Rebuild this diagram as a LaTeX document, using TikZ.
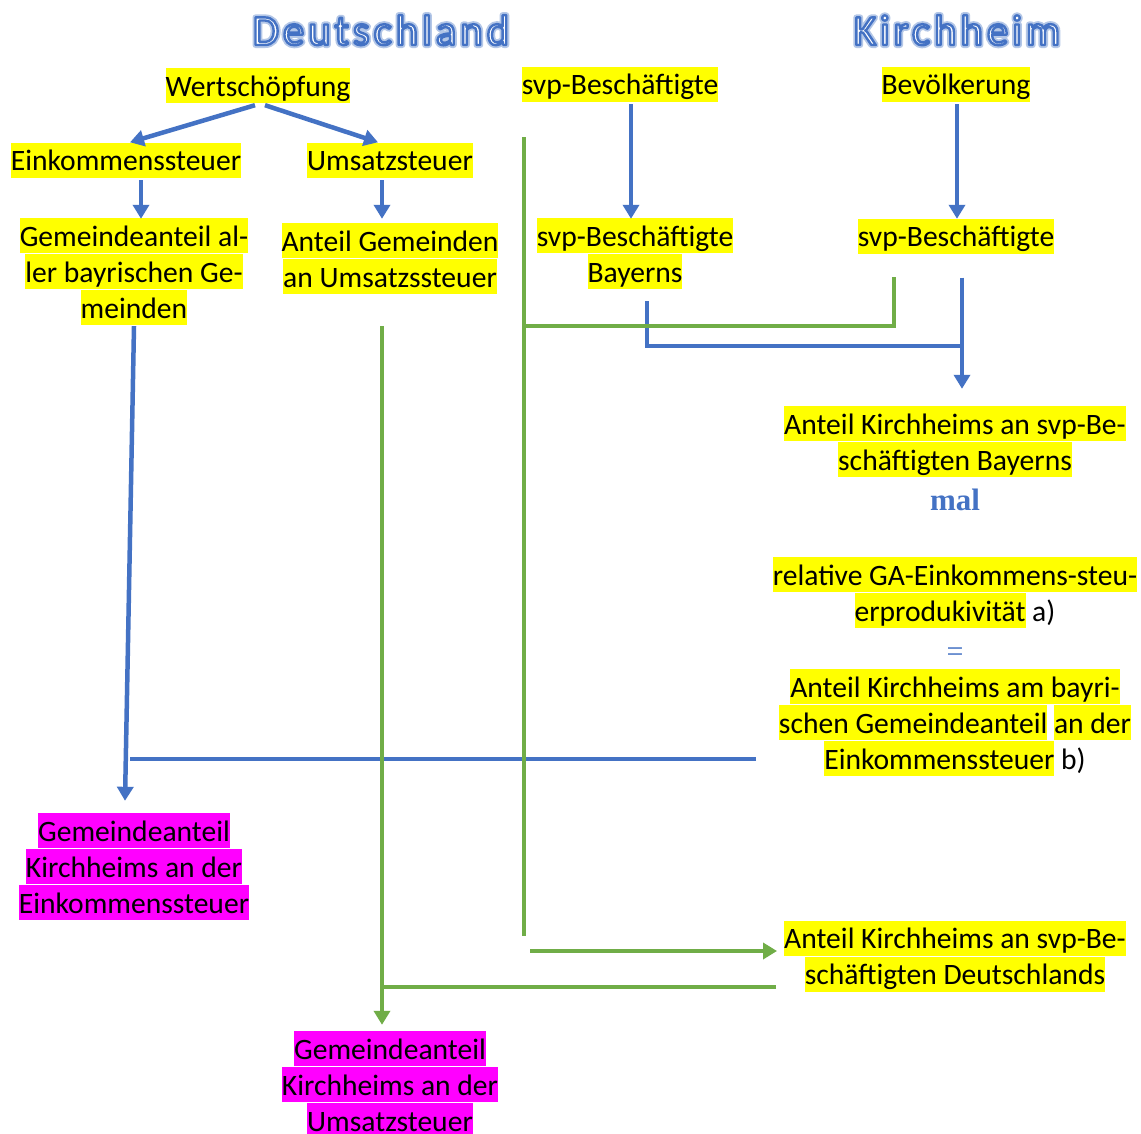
\documentclass[tikz,border=0pt]{standalone}
\usepackage{fontspec}
\setmainfont{Carlito}
\newfontfamily\titlefont[LetterSpace=9]{Carlito}
\newfontfamily\serifbold{Liberation Serif}
\usetikzlibrary{arrows.meta}
\definecolor{obl}{HTML}{4472C4}
\definecolor{oblglow}{HTML}{B4C7E7}
\definecolor{ogr}{HTML}{70AD47}
\definecolor{hlyel}{HTML}{FFFF00}
\definecolor{hlmag}{HTML}{FF00FF}
\newcommand\hly[1]{{\setlength{\fboxsep}{0pt}\colorbox{hlyel}{\rule[-7pt]{0pt}{35pt}#1}}}
\newcommand\hlm[1]{{\setlength{\fboxsep}{0pt}\colorbox{hlmag}{\rule[-7pt]{0pt}{35pt}#1}}}
\newcommand\glowtext[1]{{\color{oblglow}\special{pdf:literal direct 2 Tr 6 w 1 j 0.706 0.780 0.906 RG}#1\special{pdf:literal direct 0 Tr 1 w 0 j}}}
\newcommand\outltext[1]{{\color{white}\special{pdf:literal direct 2 Tr 2.4 w 1 j 0.267 0.447 0.769 RG}#1\special{pdf:literal direct 0 Tr 1 w 0 j}}}
\begin{document}
\begin{tikzpicture}[x=1pt,y=-1pt,
  txt/.style={font=\fontsize{29.6}{36}\selectfont, align=center, inner sep=0pt},
  bl/.style={draw=obl, line width=4.5pt},
  gr/.style={draw=ogr, line width=4.5pt},
  arrowhd/.style={-{Triangle[width=16pt,length=14pt]}},
  ttl/.style={font=\titlefont\fontsize{43}{48}\selectfont, inner sep=0pt, anchor=base}]
\useasboundingbox (0,0) rectangle (1141,1133);
\fill[white] (0,0) rectangle (1141,1133);

% titles (outlined text with soft glow)
\node[ttl] (tDg) at (381,45) {\glowtext{Deutschland}};
\node[ttl] (tKg) at (957,45) {\glowtext{Kirchheim}};
\node[ttl] (tD) at (381,45) {\outltext{Deutschland}};
\node[ttl] (tK) at (957,45) {\outltext{Kirchheim}};

% text nodes
\node[txt] (W) at (258,85.5) {\hly{Wertschöpfung}};
\node[txt] (S1) at (620,84) {\hly{svp-Beschäftigte}};
\node[txt] (B) at (956,84) {\hly{Bevölkerung}};
\node[txt] (E) at (126,160) {\hly{Einkommenssteuer}};
\node[txt] (U) at (390,160) {\hly{Umsatzsteuer}};
\node[txt] (G) at (134,271.5) {\hly{Gemeindeanteil al-}\\\hly{ler bayrischen Ge-}\\\hly{meinden}};
\node[txt] (A) at (390,258.5) {\hly{Anteil Gemeinden}\\\hly{an Umsatzssteuer}};
\node[txt] (S2) at (635,253.5) {\hly{svp-Beschäftigte}\\\hly{Bayerns}};
\node[txt] (S3) at (956,236) {\hly{svp-Beschäftigte}};
\node[txt] (K1) at (955,441.5) {\hly{Anteil Kirchheims an svp-Be-}\\\hly{schäftigten Bayerns}};
\node[font=\serifbold\bfseries\fontsize{31}{36}\selectfont, text=obl, anchor=base, inner sep=0pt] (mal) at (955,510) {mal};
\node[txt] (R) at (955,592.5) {\hly{relative GA-Einkommens-steu-}\\\hly{erprodukivität} a)};
\node[font=\serifbold\fontsize{30}{36}\selectfont, text=obl, inner sep=0pt] (eq) at (955,655) {=};
\node[txt] (R3) at (955,722.5) {\hly{Anteil Kirchheims am bayri-}\\\hly{schen Gemeindeanteil} \hly{an der}\\\hly{Einkommenssteuer} b)};
\node[txt] (M1) at (134,866.5) {\hlm{Gemeindeanteil}\\\hlm{Kirchheims an der}\\\hlm{Einkommenssteuer}};
\node[txt] (K2) at (955,956) {\hly{Anteil Kirchheims an svp-Be-}\\\hly{schäftigten Deutschlands}};
\node[txt] (M2) at (390,1084.5) {\hlm{Gemeindeanteil}\\\hlm{Kirchheims an der}\\\hlm{Umsatzsteuer}};

% free-end coordinates
\coordinate (g1) at (524,137);
\coordinate (g2) at (524,936);
\coordinate (gj) at (524,326);
\coordinate (bj) at (962,346);
\coordinate (bh1) at (756,759);
\coordinate (bh2) at (130,759);
\coordinate (ga) at (530,951);
\coordinate (gu) at (382,987);

% blue connectors
\draw[bl, arrowhd] ([shift={(-3,2)}]W.south) -- ([shift={(4,0)}]E.north);
\draw[bl, arrowhd] ([shift={(7,2)}]W.south) -- ([shift={(-12,0)}]U.north);
\draw[bl, arrowhd] ([shift={(15,2.5)}]E.south) -- ([shift={(7,1)}]G.north);
\draw[bl, arrowhd] ([shift={(-8,2.5)}]U.south) -- ([shift={(-8,-4)}]A.north);
\draw[bl, arrowhd] ([shift={(11,2.5)}]S1.south) -- ([shift={(-4,1)}]S2.north);
\draw[bl, arrowhd] ([shift={(1,2.5)}]B.south) -- ([shift={(1,0.5)}]S3.north);
\draw[bl] ([shift={(12,12)}]S2.south) |- (bj);
\draw[bl, arrowhd] ([shift={(6,24)}]S3.south) -- ([shift={(7,-17)}]K1.north);
\draw[bl, arrowhd] ([shift={(0,1)}]G.south) -- ([shift={(-9,-12)}]M1.north);
\draw[bl] (bh1) -- (bh2);

% green connectors
\draw[gr] (g1) -- (g2);
\draw[gr] ([shift={(-62,23.5)}]S3.south) |- (gj);
\draw[gr, arrowhd] ([shift={(-8,32)}]A.south) -- ([shift={(-8,-6)}]M2.north);
\draw[gr, arrowhd] (ga) -- ([shift={(-7,-5)}]K2.west);
\draw[gr] ([shift={(-8,31)}]K2.west) -- (gu);
\end{tikzpicture}
\end{document}
